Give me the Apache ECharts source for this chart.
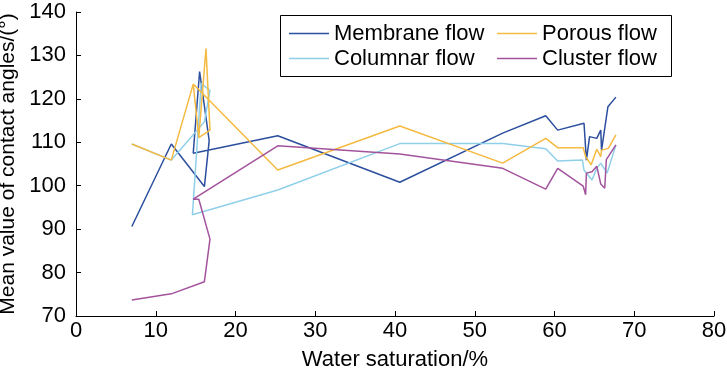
<!DOCTYPE html>
<html>
<head>
<meta charset="utf-8">
<script src="https://cdn.jsdelivr.net/npm/echarts@6/dist/echarts.min.js"></script>
<style>html,body{margin:0;padding:0;background:#fff}#c{width:727px;height:380px}</style>
</head>
<body>
<div id="c"></div>
<script>
// Tick settings
var xTicks = [0, 10, 20, 30, 40, 50, 60, 70, 80];
var yTicks = [70, 80, 90, 100, 110, 120, 130, 140];
var seriesNames = ['Membrane flow', 'Porous flow', 'Columnar flow', 'Cluster flow'];

var membraneX = [7.0, 11.95, 16.1, 16.7, 15.5, 14.7, 25.3, 40.6, 53.5, 58.9, 60.4, 63.7, 64.0, 64.4, 65.3, 65.8, 65.9, 66.7, 67.7];
var membraneY = [90.6, 109.6, 99.8, 110.4, 126.3, 107.5, 111.5, 100.8, 112.1, 116.1, 112.8, 114.4, 105.9, 111.3, 110.9, 112.8, 108.2, 118.2, 120.4];

var porousX = [7.0, 11.95, 14.7, 15.4, 16.3, 16.8, 15.4, 14.7, 25.3, 40.6, 53.5, 58.9, 60.4, 63.6, 63.9, 64.6, 65.3, 65.8, 65.9, 66.75, 67.7];
var porousY = [109.6, 105.9, 123.4, 111.1, 131.6, 112.8, 111.1, 123.4, 103.6, 113.75, 105.2, 110.9, 108.75, 108.75, 106.7, 104.8, 108.4, 106.7, 108.2, 108.6, 111.7];

var columnarX = [7.0, 11.95, 16.1, 16.8, 15.7, 14.6, 25.3, 40.6, 53.5, 58.9, 60.4, 63.5, 63.7, 64.7, 65.3, 65.8, 66.6, 67.7];
var columnarY = [109.6, 105.9, 114.7, 121.9, 123.6, 93.3, 99.0, 109.7, 109.7, 108.5, 105.7, 105.9, 103.6, 101.3, 104.0, 105.2, 102.9, 109.4];

var clusterX = [7.0, 11.95, 16.1, 16.8, 15.4, 14.7, 25.3, 40.6, 53.5, 58.9, 60.4, 63.6, 63.9, 64.0, 64.7, 65.3, 65.8, 66.3, 66.5, 67.7];
var clusterY = [73.7, 75.1, 77.9, 87.7, 96.9, 96.9, 109.2, 107.3, 104.0, 99.2, 104.0, 99.9, 97.9, 102.9, 103.2, 104.5, 100.4, 99.4, 106.0, 109.4];

var colors = ['#2b4f9e', '#f4ba41', '#8fcfe9', '#a3539c'];

function zip(xs, ys) { return xs.map(function (x, i) { return [x, ys[i]]; }); }

var font = 'Liberation Sans, Arial, sans-serif';
var chart = echarts.init(document.getElementById('c'), null, { renderer: 'canvas' });

function mkSeries(name, xs, ys, color, z) {
  return {
    name: name, type: 'line', data: zip(xs, ys), symbol: 'none', z: z,
    lineStyle: { color: color, width: 1.5 }, itemStyle: { color: color },
    animation: false
  };
}

var legendCommon = {
  orient: 'vertical', top: 21, itemGap: 0, itemWidth: 40, itemHeight: 1.5, icon: 'rect',
  textStyle: { fontFamily: font, fontSize: 22, color: '#000', lineHeight: 25 },
  selectedMode: false, padding: 0
};

chart.setOption({
  animation: false,
  backgroundColor: '#fff',
  grid: { left: 76, right: 13, top: 12, bottom: 64, containLabel: false, outerBoundsMode: 'none' },
  graphic: [{
    type: 'rect', shape: { x: 280.5, y: 15.5, width: 391, height: 61 },
    style: { fill: '#fff', stroke: '#000', lineWidth: 1 }, z: 5
  }],
  legend: [
    Object.assign({ left: 289, data: [seriesNames[0], seriesNames[2]], z: 10 }, legendCommon),
    Object.assign({ left: 497, data: [seriesNames[1], seriesNames[3]], z: 10 }, legendCommon)
  ],
  xAxis: {
    type: 'value', min: xTicks[0], max: xTicks[xTicks.length - 1], interval: 10,
    name: 'Water saturation/%', nameLocation: 'middle', nameGap: 33,
    nameTextStyle: { fontFamily: font, fontSize: 22, color: '#000' },
    axisLine: { show: true, lineStyle: { color: '#000', width: 1 } },
    axisTick: { show: true, inside: true, length: 5, lineStyle: { color: '#000' } },
    axisLabel: { fontFamily: font, fontSize: 22, color: '#000', margin: 4 },
    splitLine: { show: false }
  },
  yAxis: {
    type: 'value', min: yTicks[0], max: yTicks[yTicks.length - 1], interval: 10,
    name: 'Mean value of contact angles/(°)', nameLocation: 'middle', nameGap: 44,
    nameTextStyle: { fontFamily: font, fontSize: 21, color: '#000' },
    axisLine: { show: true, lineStyle: { color: '#000', width: 1 } },
    axisTick: { show: true, inside: true, length: 5, lineStyle: { color: '#000' } },
    axisLabel: { fontFamily: font, fontSize: 22, color: '#000', margin: 10 },
    splitLine: { show: false }
  },
  series: [
    mkSeries(seriesNames[0], membraneX, membraneY, colors[0], 2),
    mkSeries(seriesNames[2], columnarX, columnarY, colors[2], 2),
    mkSeries(seriesNames[1], porousX, porousY, colors[1], 3),
    mkSeries(seriesNames[3], clusterX, clusterY, colors[3], 4)
  ]
});
</script>
</body>
</html>
